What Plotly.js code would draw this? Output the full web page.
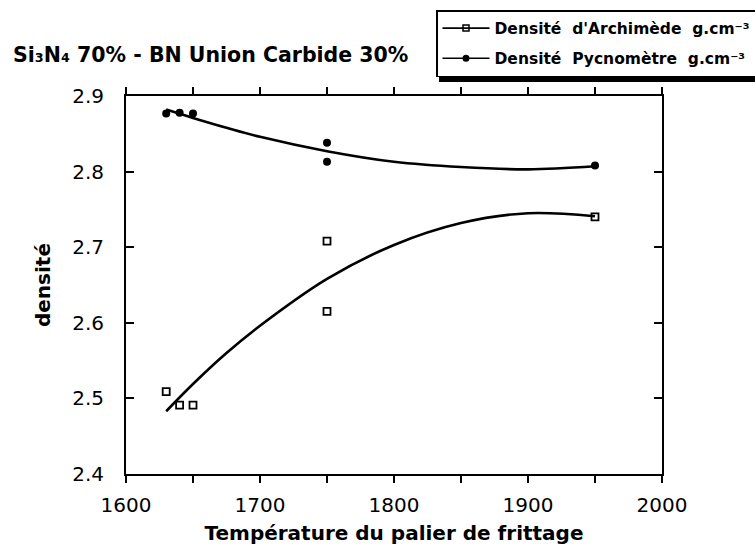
<!DOCTYPE html>
<html>
<head>
<meta charset="utf-8">
<script src="https://cdn.plot.ly/plotly-3.0.1.min.js"></script>
<style>html,body{margin:0;padding:0;background:#fff;}#chart{width:755px;height:546px;}</style>
</head>
<body>
<div id="chart"></div>
<script>
// Measured data points
var archX = [1630, 1640, 1650, 1750, 1750, 1950];
var archY = [2.509, 2.491, 2.491, 2.708, 2.615, 2.740];
var pycX = [1630, 1640, 1650, 1750, 1750, 1950];
var pycY = [2.877, 2.878, 2.877, 2.838, 2.813, 2.808];
// Trend curves
var fitX = [1630, 1650, 1675, 1700, 1750, 1800, 1850, 1900, 1950];
var fitArch = [2.483, 2.519, 2.560, 2.596, 2.658, 2.703, 2.732, 2.745, 2.741];
var fitPyc = [2.882, 2.871, 2.858, 2.846, 2.827, 2.813, 2.806, 2.803, 2.807];
// Axis ticks
var xTickVals = [1600, 1700, 1800, 1900, 2000];
var xTickText = ['1600', '1700', '1800', '1900', '2000'];
var yTickVals = [2.4, 2.5, 2.6, 2.7, 2.8, 2.9];
var legendNames = ["Densit\u00e9\u00a0\u00a0d'Archim\u00e8de\u00a0\u00a0g.cm\u207b\u00b3",
                   "Densit\u00e9\u00a0\u00a0Pycnom\u00e8tre\u00a0\u00a0g.cm\u207b\u00b3"];
var titleText = 'Si\u2083N\u2084 70% - BN Union Carbide 30%';

var W = 755, H = 546, L = 126, R = 662, T = 96, B = 474;
function px(x) { return (x - L) / (R - L); }
function py(y) { return (B - y) / (B - T); }

var FONT = 'DejaVu Sans, Liberation Sans, Arial, sans-serif';

var traces = [
  {x: fitX, y: fitArch, mode: 'lines', line: {color: '#000', width: 2.6, shape: 'spline', smoothing: 1}, showlegend: false, hoverinfo: 'skip'},
  {x: fitX, y: fitPyc, mode: 'lines', line: {color: '#000', width: 2.6, shape: 'spline', smoothing: 1}, showlegend: false, hoverinfo: 'skip'},
  {x: archX, y: archY, mode: 'markers', marker: {symbol: 'square-open', size: 7, color: '#000', line: {width: 1.8}}, showlegend: false},
  {x: pycX, y: pycY, mode: 'markers', marker: {symbol: 'circle', size: 8, color: '#000'}, showlegend: false},
  {x: [null], y: [null], mode: 'lines+markers', name: legendNames[0], legendgroup: 'a',
   line: {color: '#000', width: 1.6}, marker: {symbol: 'square-open', size: 6, color: '#000', line: {width: 1.5}}},
  {x: [null], y: [null], mode: 'lines+markers', name: legendNames[1], legendgroup: 'b',
   line: {color: '#000', width: 1.6}, marker: {symbol: 'circle', size: 7, color: '#000'}}
];

var layout = {
  width: W, height: H,
  margin: {l: L, r: W - R, t: T, b: H - B, pad: 0, autoexpand: false},
  paper_bgcolor: '#fff', plot_bgcolor: '#fff',
  font: {family: FONT, color: '#000', size: 20},
  title: {
    text: titleText,
    font: {family: FONT, size: 20.5, weight: 'bold', color: '#000'},
    xref: 'container', yref: 'container', x: 13 / W, xanchor: 'left',
    y: 1 - 55 / H, yanchor: 'middle'
  },
  xaxis: {
    range: [1600, 2000], tickvals: xTickVals, ticktext: xTickText,
    ticks: 'outside', ticklen: 7, tickwidth: 2, tickcolor: '#000',
    minor: {dtick: 50, tick0: 1600, ticks: 'outside', ticklen: 7, tickwidth: 2, tickcolor: '#000', showgrid: false},
    showline: true, linewidth: 2, linecolor: '#000', mirror: 'allticks',
    showgrid: false, zeroline: false, ticklabelstandoff: 5,
    tickfont: {family: FONT, size: 20, color: '#000'},
    title: {text: 'Température du palier de frittage', standoff: 10,
            font: {family: FONT, size: 20, weight: 'bold', color: '#000'}}
  },
  xaxis2: {
    overlaying: 'x', anchor: 'y', side: 'bottom', range: [1600, 2000], dtick: 50, tick0: 1600,
    ticks: 'inside', ticklen: 7, tickwidth: 2, tickcolor: '#000', showticklabels: false,
    showline: false, mirror: 'allticks', showgrid: false, zeroline: false
  },
  yaxis: {
    range: [2.4, 2.9], tickvals: yTickVals, tickformat: '.1f',
    ticks: 'inside', ticklen: 8, tickwidth: 2, tickcolor: '#000',
    showline: true, linewidth: 2, linecolor: '#000', mirror: 'allticks',
    showgrid: false, zeroline: false, ticklabelstandoff: 16,
    tickfont: {family: FONT, size: 20, color: '#000'},
    title: {text: 'densité', standoff: 16,
            font: {family: FONT, size: 20, weight: 'bold', color: '#000'}}
  },
  showlegend: true,
  legend: {
    x: px(436), y: py(10), xanchor: 'left', yanchor: 'top',
    bgcolor: '#fff', bordercolor: '#000', borderwidth: 1.5,
    font: {family: FONT, size: 15.5, weight: 'bold', color: '#000'},
    itemwidth: 47, traceorder: 'grouped', tracegroupgap: 7
  },
  shapes: [
    {type: 'rect', xref: 'paper', yref: 'paper', x0: px(439), x1: px(770), y0: py(13), y1: py(82),
     fillcolor: '#000', line: {width: 0}, layer: 'above'}
  ]
};

Plotly.newPlot('chart', traces, layout, {displayModeBar: false, staticPlot: true});
</script>
</body>
</html>
